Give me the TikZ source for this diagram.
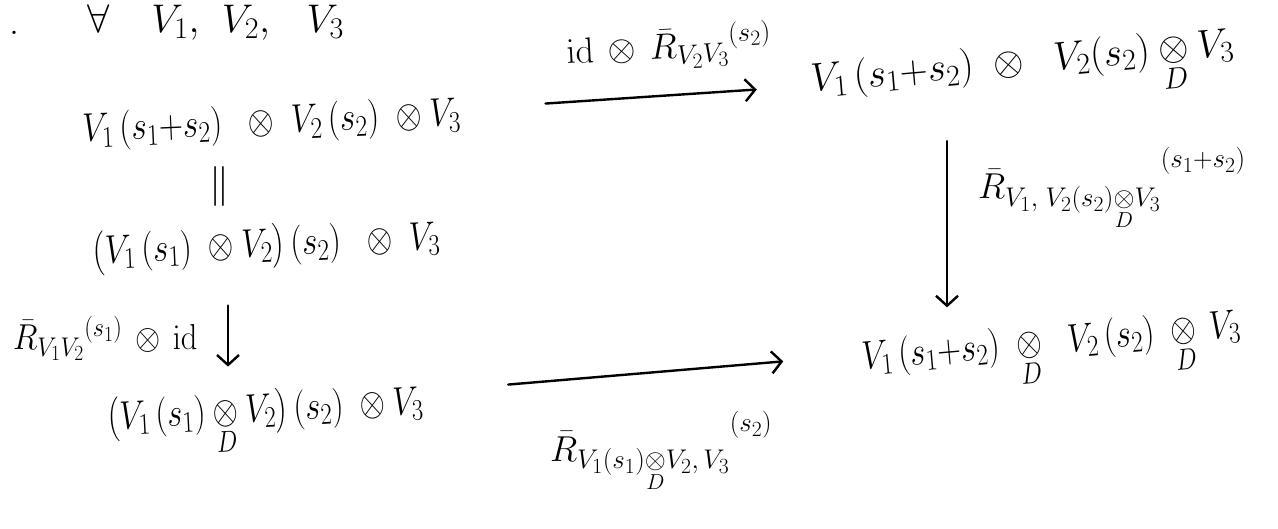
\RequirePackage{fix-cm}
\documentclass[tikz,border=0pt]{standalone}
\usepackage{amsmath}
\usepackage{graphicx}
\usetikzlibrary{arrows.meta}
\renewcommand\defaultscriptratio{.75}
\renewcommand\defaultscriptscriptratio{.6}
\newcommand{\Dt}{\underset{D}{\otimes}}
\newcommand{\nx}[2]{\scalebox{#1}[1]{$#2$}}
\tikzset{
  txt/.style={inner sep=0pt, anchor=base west, font=\fontsize{40}{46}\selectfont},
  lbl/.style={inner sep=0pt, anchor=base west, font=\fontsize{36}{42}\selectfont},
  arr/.style={line width=2.4pt, line cap=round, -{Straight Barb[length=10pt,width=22pt]}},
}
\begin{document}
\begin{tikzpicture}[x=1pt,y=-1pt]
\useasboundingbox (0,0) rectangle (1278,529);
\node[txt] (dot) at (9,35) {.};
\node[txt] (top) at (87,33) {$\forall\hspace{42pt}V_1,\hspace{16pt}V_2,\hspace{30pt}V_3$};
\node[txt, rotate=2.5] (A) at (83,142) {\nx{0.84}{V_1\,(s_1{+}s_2)\;\;\otimes\; V_2\,(s_2)\;\otimes V_3}};
\node[txt] (eq) at (209,197) {$\Vert$};
\node[txt, rotate=2.5] (B) at (93,264) {\nx{0.83}{\bigl(V_1\,(s_1)\;\otimes V_2\bigr)\,(s_2)\;\;\otimes\; V_3}};
\node[txt, rotate=3] (C) at (108,430) {\nx{0.82}{\bigl(V_1\,(s_1)\Dt V_2\bigr)\,(s_2)\;\otimes V_3}};
\node[txt, rotate=5] (D) at (812,92) {\nx{0.98}{V_1\,(s_1{+}s_2)\;\otimes\;\; V_2(s_2)\Dt V_3}};
\node[txt, rotate=5] (E) at (863,370) {\nx{0.83}{V_1\,(s_1{+}s_2)\;\Dt\;\; V_2\,(s_2)\;\Dt\, V_3}};
\node[lbl, rotate=3] (lt) at (567,64) {$\mathrm{id}\,\otimes\,\bar{R}_{V_2V_3}{}^{(s_2)}$};
\node[lbl] (ll) at (13,350) {\nx{0.9}{\bar{R}_{V_1V_2}{}^{(s_1)}\,\otimes\,\mathrm{id}}};
\node[lbl] (lr) at (978,199) {$\bar{R}_{V_1,\;V_2(s_2)\Dt V_3}{}^{\raisebox{.5em}{$\scriptstyle(s_1+s_2)$}}$};
\node[lbl] (lb) at (550,461) {$\bar{R}_{V_1(s_1)\Dt V_2,\,V_3}{}^{\raisebox{.45em}{$\scriptstyle(s_2)$}}$};
\coordinate (lx) at (228,0);
\coordinate (rx) at (947,0);
\draw[arr, shorten <=85pt, shorten >=55pt, transform canvas={yshift=2pt}] (A) -- (D);
\draw[arr, shorten <=85pt, shorten >=80pt, transform canvas={yshift=15pt}] (C) -- (E);
\draw[arr, shorten <=35pt, shorten >=21pt] (B.south -| lx) -- (C.north -| lx);
\draw[arr, shorten <=37pt, shorten >=16pt] (D.south -| rx) -- (E.north -| rx);
\end{tikzpicture}
\end{document}
